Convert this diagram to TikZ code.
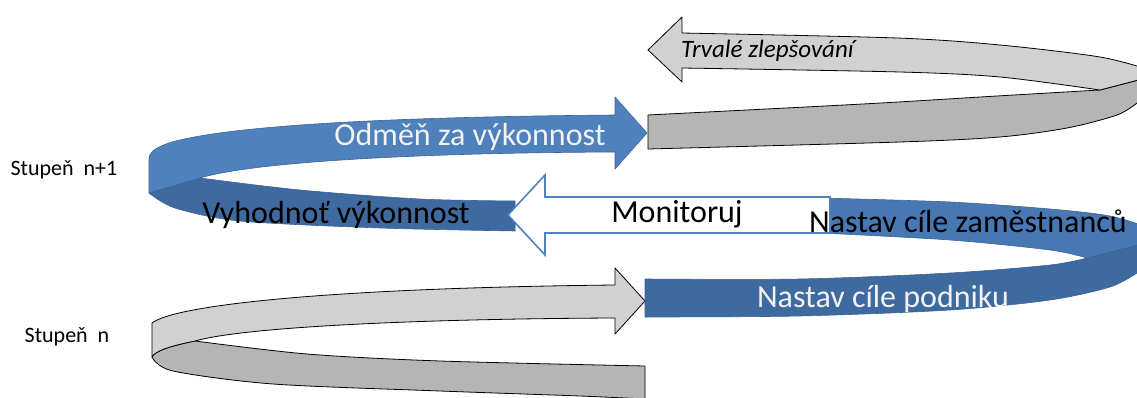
\documentclass[tikz,border=0pt]{standalone}
\usepackage{fontspec}
\setmainfont{Carlito}
\begin{document}
\begin{tikzpicture}[x=1pt,y=-1pt,
  graylight/.style={fill=ribbonlight, draw=black, line width=0.8pt, line join=round},
  graydark/.style={fill=ribbondark, draw=black, line width=0.8pt, line join=round},
  bluelight/.style={fill=bandlight, draw=bandedge, line width=0.6pt, line join=round},
  bluedark/.style={fill=banddark, draw=bandedge, line width=0.6pt, line join=round},
  bluemid/.style={fill=bandmid, draw=bandedge, line width=0.6pt, line join=round},
  hollow/.style={fill=white, draw=bandlight, line width=1.6pt, line join=miter},
  biglabel/.style={font=\fontsize{32}{38}\selectfont, inner sep=0pt},
  sidelabel/.style={font=\fontsize{22}{26}\selectfont, inner sep=0pt},
]
\definecolor{ribbonlight}{HTML}{D1D1D1}
\definecolor{ribbondark}{HTML}{B5B5B5}
\definecolor{bandlight}{HTML}{4F81BD}
\definecolor{bandmid}{HTML}{4878B3}
\definecolor{banddark}{HTML}{3F6AA0}
\definecolor{bandedge}{HTML}{3A6496}

\useasboundingbox (0,0) rectangle (1137,398);
\clip (0,0) rectangle (1137,398);

% ---- lower grey loop (level n) ----
\path[graydark] (152,357) .. controls (155,351) and (170,346) .. (195,341)
  -- plot[smooth] coordinates {(195,341) (307,354) (440,361) (645,366)}
  -- (645,400)
  -- plot[smooth] coordinates {(645,399) (580,396) (440,391) (273,384) (173,371) (152,357)}
  -- cycle;
\path[graylight] (152,323) .. controls (175,305) and (330,288) .. (615,285)
  -- (615,268) -- (645,301) -- (615,334) -- (615,318)
  .. controls (400,319) and (240,328) .. (195,341)
  .. controls (170,346) and (155,351) .. (152,357) -- cycle;

% ---- right blue loop ----
\path[bluedark] (645,279)
  -- plot[smooth] coordinates {(645,279) (800,279) (950,273) (1050,265) (1087,258)}
  -- (1150,242) -- (1150,268)
  -- plot[smooth] coordinates {(1137,273) (1110,287) (1050,300) (950,310) (800,316) (645,317)}
  -- cycle;
\path[bluemid] (820,198)
  -- plot[smooth] coordinates {(820,198) (950,202) (1050,209) (1110,216) (1150,228)}
  -- (1150,242) -- (1087,258)
  -- plot[smooth] coordinates {(1087,258) (1050,250) (950,240) (820,233)}
  -- cycle;

% ---- left blue loop ----
\path[bluedark] (149,193) -- (200,178)
  -- plot[smooth] coordinates {(200,178) (300,190) (420,199) (515,201)}
  -- (515,231)
  -- plot[smooth] coordinates {(515,231) (380,228) (240,221) (175,208) (149,193)}
  -- cycle;
\path[bluelight] (149,158) .. controls (150,150) and (160,146) .. (172,142)
  .. controls (230,126) and (380,117) .. (615,115)
  -- (615,97) -- (647,133) -- (615,169) -- (615,152)
  .. controls (400,153) and (250,163) .. (200,178)
  -- (149,193) -- cycle;

% ---- hollow arrow between the loops ----
\path[hollow] (830,197) -- (545,197) -- (545,175) -- (508,215)
  -- (545,255) -- (545,233) -- (830,233) -- cycle;

% ---- upper grey loop (continuous improvement) ----
\path[graydark] (648,115)
  -- plot[smooth] coordinates {(648,115) (863,104) (997,96) (1100,90)}
  -- (1150,77) -- (1150,100)
  -- plot[smooth] coordinates {(1137,103) (1117,115) (1067,128) (1000,137) (900,142) (648,149)}
  -- cycle;
\path[graylight] (682,33)
  -- plot[smooth] coordinates {(682,33) (897,38) (1000,45) (1100,57) (1150,70)}
  -- (1150,77) -- (1100,90)
  -- plot[smooth] coordinates {(1100,90) (1000,77) (900,72) (682,68)}
  -- (682,82) -- (648,50) -- (682,17) -- cycle;

% ---- labels ----
\node[font=\fontsize{25}{29}\selectfont\itshape, inner sep=0pt, anchor=west] (trvale) at (681,51) {Trvalé zlepšování};
\node[biglabel, text=white!95!black] (odmena) at (470,137) {Odměň za výkonnost};
\node[biglabel] (vyhodnot) at (336,215) {Vyhodnoť výkonnost};
\node[biglabel] (monitor) at (677,214) {Monitoruj};
\node[biglabel, anchor=west] (cilezam) at (809,221) {Nastav cíle zaměstnanců};
\node[biglabel, text=white!95!black] (cilepod) at (883,299) {Nastav cíle podniku};
\node[sidelabel] (stupen1) at (64,170) {Stupeň\ \ n+1};
\node[sidelabel] (stupen0) at (67,337) {Stupeň\ \ n};
\end{tikzpicture}
\end{document}
